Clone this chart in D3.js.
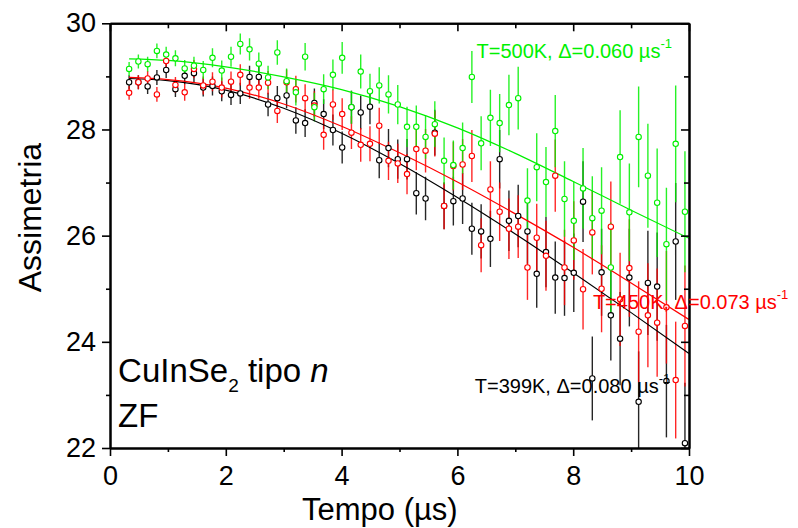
<!DOCTYPE html>
<html><head><meta charset="utf-8">
<script src="https://cdn.jsdelivr.net/npm/d3@7"></script>
<style>
html,body{margin:0;padding:0;background:#fff;}
text{font-family:"Liberation Sans",Arial,sans-serif;}
</style></head>
<body><svg id="chart" width="798" height="528"></svg>
<script>
// ---- data ----
const times = [0.33,0.49,0.65,0.81,0.97,1.13,1.29,1.45,1.61,1.77,1.93,2.09,2.25,2.41,2.57,2.73,2.89,3.05,3.21,3.37,3.53,3.69,3.85,4.01,4.17,4.33,4.49,4.65,4.81,4.97,5.13,5.29,5.45,5.61,5.77,5.93,6.09,6.25,6.41,6.57,6.73,6.89,7.05,7.21,7.37,7.53,7.69,7.85,8.01,8.17,8.33,8.49,8.65,8.81,8.97,9.13,9.29,9.45,9.61,9.77,9.93];
const black399 = [28.89,28.89,28.81,28.98,29.12,28.76,29.01,29.06,28.79,28.82,28.72,28.65,28.68,28.99,28.99,28.47,28.59,28.64,28.17,28.12,28.50,28.29,27.99,27.66,28.42,28.32,28.43,27.42,27.65,27.44,27.44,26.80,26.70,27.94,26.56,26.65,26.70,26.13,26.08,25.94,27.44,26.28,26.37,26.08,25.28,25.69,25.21,25.20,25.30,26.64,23.31,25.31,24.50,24.06,25.21,22.87,25.11,25.04,23.26,25.89,22.09];
const red450 = [28.69,28.89,28.96,28.66,29.29,28.84,28.70,29.14,28.83,28.90,28.79,28.90,29.03,28.79,28.79,28.88,28.35,28.89,28.76,28.59,28.45,27.90,28.47,28.29,27.94,27.71,27.73,28.07,27.41,27.36,27.16,27.63,27.60,27.92,26.56,27.31,27.34,27.50,25.82,26.87,26.45,26.13,26.17,25.40,25.96,25.62,27.13,25.40,25.91,24.99,26.06,25.00,26.17,24.80,25.39,24.19,24.50,24.36,24.65,23.28,24.30];
const green500 = [29.14,29.28,29.23,29.48,29.41,29.34,29.15,29.20,29.12,29.35,29.11,29.37,29.61,29.51,29.24,28.98,29.45,28.91,28.70,29.37,28.42,28.76,29.03,29.35,28.42,29.09,28.72,28.83,28.66,28.47,28.05,28.05,27.86,28.10,27.41,27.33,27.65,28.99,27.74,28.22,28.12,28.46,28.59,26.66,27.29,27.01,27.97,26.69,26.28,26.89,26.33,26.47,25.40,27.48,26.44,27.86,27.13,26.62,25.84,27.73,26.45];
const errorBars = [0.13,0.13,0.14,0.14,0.15,0.15,0.16,0.17,0.17,0.18,0.19,0.19,0.20,0.21,0.21,0.22,0.23,0.24,0.25,0.26,0.27,0.28,0.29,0.30,0.31,0.32,0.33,0.34,0.36,0.37,0.38,0.40,0.41,0.43,0.44,0.46,0.48,0.49,0.51,0.53,0.55,0.57,0.59,0.61,0.64,0.66,0.68,0.71,0.74,0.76,0.79,0.82,0.85,0.88,0.92,0.95,0.98,1.02,1.06,1.10,1.14];
const fitTimes = [0.33,1,2,3,4,5,6,7,8,9,10];
const fitBlack = [28.96,28.92,28.74,28.40,27.93,27.36,26.72,26.03,25.30,24.55,23.78];
const fitRed   = [28.98,28.94,28.78,28.48,28.06,27.56,27.01,26.41,25.78,25.11,24.42];
const fitGreen = [29.33,29.30,29.18,28.99,28.75,28.43,28.03,27.55,27.02,26.48,25.95];
const xMajorTicks = [0,2,4,6,8,10];
const xMinorTicks = [1,3,5,7,9];
const yMajorTicks = [22,24,26,28,30];
const yMinorTicks = [23,25,27,29];

const series = [
  {name:"T=399K, \u0394=0.080 \u00b5s", values:black399, fit:fitBlack, color:"#000000", lx:6.30, ly:23.03},
  {name:"T=450K, \u0394=0.073 \u00b5s", values:red450, fit:fitRed, color:"#ff0000", lx:8.34, ly:24.62},
  {name:"T=500K, \u0394=0.060 \u00b5s", values:green500, fit:fitGreen, color:"#00f000", lx:6.33, ly:29.34}
];

// ---- chart ----
const svg = d3.select("#chart");
const L=110, R=689, T=23.3, B=448;
const x = d3.scaleLinear().domain([0,10]).range([L,R]);
const y = d3.scaleLinear().domain([22,30]).range([B,T]);

svg.append("defs").append("clipPath").attr("id","clip")
  .append("rect").attr("x",L).attr("y",T).attr("width",R-L).attr("height",B-T);

const plot = svg.append("g").attr("clip-path","url(#clip)");

series.forEach(s=>{
  const g = plot.append("g");
  g.selectAll("line.err").data(s.values).join("line")
    .attr("x1",(d,i)=>x(times[i])).attr("x2",(d,i)=>x(times[i]))
    .attr("y1",(d,i)=>y(d-errorBars[i])).attr("y2",(d,i)=>y(d+errorBars[i]))
    .attr("stroke",s.color).attr("stroke-width",1.4).attr("stroke-opacity",0.85);
});
series.forEach(s=>{
  plot.append("path")
    .datum(s.fit)
    .attr("fill","none").attr("stroke",s.color).attr("stroke-width",1.2)
    .attr("d", d3.line().x((d,i)=>x(fitTimes[i])).y(d=>y(d)).curve(d3.curveMonotoneX));
});
series.forEach(s=>{
  plot.append("g").selectAll("circle").data(s.values).join("circle")
    .attr("cx",(d,i)=>x(times[i])).attr("cy",d=>y(d)).attr("r",2.7)
    .attr("fill","#fff").attr("stroke",s.color).attr("stroke-width",1.1);
});

// axes
function styleAxis(g){
  g.selectAll(".domain").attr("stroke","#000").attr("stroke-width",2);
  g.selectAll(".tick line").attr("stroke","#000").attr("stroke-width",1.6);
  g.selectAll("text").attr("font-size",27).attr("fill","#000").attr("font-family","Liberation Sans, Arial, sans-serif");
}
const noLab = ()=>"";
// left
svg.append("g").attr("transform",`translate(${L},0)`)
  .call(d3.axisLeft(y).tickValues(yMajorTicks).tickSize(8).tickPadding(6).tickSizeOuter(0)).call(styleAxis);
svg.append("g").attr("transform",`translate(${L},0)`)
  .call(d3.axisLeft(y).tickValues(yMinorTicks).tickSize(4).tickFormat(noLab).tickSizeOuter(0)).call(styleAxis);
// bottom
svg.append("g").attr("transform",`translate(0,${B})`)
  .call(d3.axisBottom(x).tickValues(xMajorTicks).tickSize(8).tickPadding(10).tickSizeOuter(0)).call(styleAxis);
svg.append("g").attr("transform",`translate(0,${B})`)
  .call(d3.axisBottom(x).tickValues(xMinorTicks).tickSize(4).tickFormat(noLab).tickSizeOuter(0)).call(styleAxis);
// top (inward)
svg.append("g").attr("transform",`translate(0,${T})`)
  .call(d3.axisBottom(x).tickValues(xMajorTicks).tickSize(8).tickFormat(noLab).tickSizeOuter(0)).call(styleAxis);
svg.append("g").attr("transform",`translate(0,${T})`)
  .call(d3.axisBottom(x).tickValues(xMinorTicks).tickSize(5).tickFormat(noLab).tickSizeOuter(0)).call(styleAxis);
// right (inward)
svg.append("g").attr("transform",`translate(${R},0)`)
  .call(d3.axisLeft(y).tickValues(yMajorTicks).tickSize(8).tickFormat(noLab).tickSizeOuter(0)).call(styleAxis);
svg.append("g").attr("transform",`translate(${R},0)`)
  .call(d3.axisLeft(y).tickValues(yMinorTicks).tickSize(5).tickFormat(noLab).tickSizeOuter(0)).call(styleAxis);

// axis titles
svg.append("text").attr("x",302).attr("y",520).attr("font-size",31).text("Tempo (\u00b5s)");
svg.append("text").attr("transform",`translate(41,${(T+B)/2 - 18}) rotate(-90)`)
  .attr("text-anchor","middle").attr("font-size",32).text("Assimetria");

// series labels
series.forEach(s=>{
  const t = svg.append("text").attr("x",x(s.lx)).attr("y",y(s.ly))
    .attr("font-size",20).attr("fill",s.color).text(s.name);
  t.append("tspan").attr("font-size",13).attr("dy",-10).text("-1");
});

// sample label
const lab = svg.append("text").attr("x",x(0.14)).attr("y",y(23.25)).attr("font-size",33);
lab.append("tspan").text("CuInSe");
lab.append("tspan").attr("font-size",19).attr("dy",10).text("2");
lab.append("tspan").attr("dy",-10).text(" tipo ");
lab.append("tspan").attr("font-style","italic").text("n");
svg.append("text").attr("x",x(0.14)).attr("y",y(22.39)).attr("font-size",33).text("ZF");
</script>
</body></html>
